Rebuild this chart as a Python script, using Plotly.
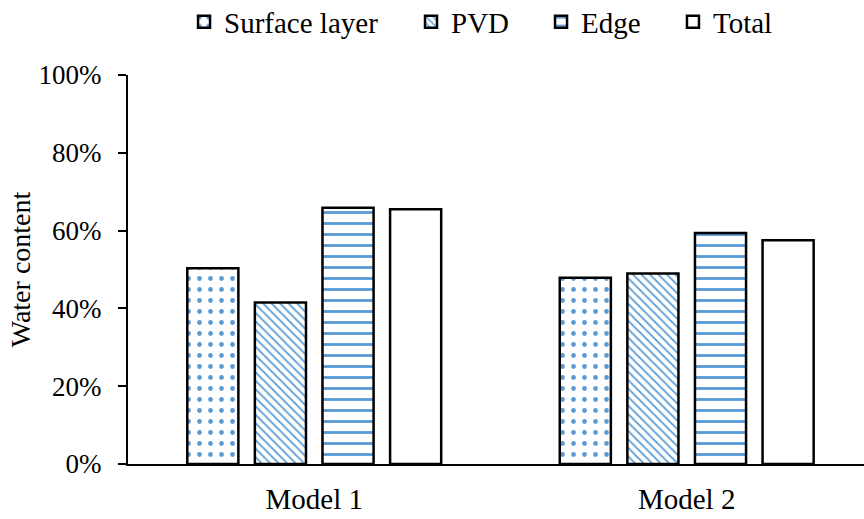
import plotly.graph_objects as go

# Water content by zone for the two models
models = ["Model 1", "Model 2"]
surface_layer = [0.503, 0.479]
pvd = [0.415, 0.490]
edge = [0.659, 0.594]
total = [0.655, 0.575]

series_names = ["Surface layer", "PVD", "Edge", "Total"]
y_ticks = [0, 0.2, 0.4, 0.6, 0.8, 1.0]

BLUE = "#5B9BD5"
FONT = "Liberation Serif"

patterns = [
    dict(shape=".", fgcolor=BLUE, bgcolor="white", size=11, solidity=0.15, fillmode="replace"),
    dict(shape="\\", fgcolor=BLUE, bgcolor="white", size=6, solidity=0.3, fillmode="replace"),
    dict(shape="-", fgcolor=BLUE, bgcolor="white", size=11, solidity=0.26, fillmode="replace"),
    dict(shape="", fgcolor=BLUE, bgcolor="white"),
]

# one legend per series so the entries can sit in a single spaced row
legend_ids = ["legend", "legend2", "legend3", "legend4"]
legend_x = [0.213, 0.4757, 0.6262, 0.7789]

fig = go.Figure()
for name, vals, pat, lid in zip(series_names, [surface_layer, pvd, edge, total], patterns, legend_ids):
    fig.add_trace(go.Bar(
        name=name,
        x=models,
        y=vals,
        legend=lid,
        marker=dict(color="white", pattern=pat, line=dict(color="black", width=2.5)),
    ))

legend_style = dict(
    orientation="h",
    xref="container", xanchor="left",
    yref="container", y=0.958, yanchor="middle",
    font=dict(family=FONT, size=29, color="black"),
    itemwidth=30,
    bgcolor="rgba(0,0,0,0)",
)

fig.update_layout(
    width=864,
    height=519,
    paper_bgcolor="white",
    plot_bgcolor="white",
    margin=dict(l=128, r=0, t=75, b=55, autoexpand=False),
    barmode="group",
    bargap=0.274,
    bargroupgap=0.244,
    font=dict(family=FONT, size=27, color="black"),
    showlegend=True,
    xaxis=dict(
        type="category",
        range=[-0.5, 1.476],
        showline=True, linecolor="black", linewidth=1.5,
        ticks="", showgrid=False, zeroline=False,
        tickfont=dict(family=FONT, size=29, color="black"),
        ticklabelstandoff=8,
    ),
    yaxis=dict(
        range=[0, 1],
        tickvals=y_ticks,
        tickformat=".0%",
        showline=True, linecolor="black", linewidth=2,
        ticks="outside", ticklen=8, tickwidth=1.5, tickcolor="black",
        showgrid=False, zeroline=False,
        tickfont=dict(family=FONT, size=27, color="black"),
        ticklabelstandoff=11,
        title=dict(text="Water content", font=dict(family=FONT, size=28, color="black"), standoff=0),
    ),
)
for lid, lx in zip(legend_ids, legend_x):
    fig.update_layout({lid: dict(legend_style, x=lx)})

fig.write_html("out.html")
